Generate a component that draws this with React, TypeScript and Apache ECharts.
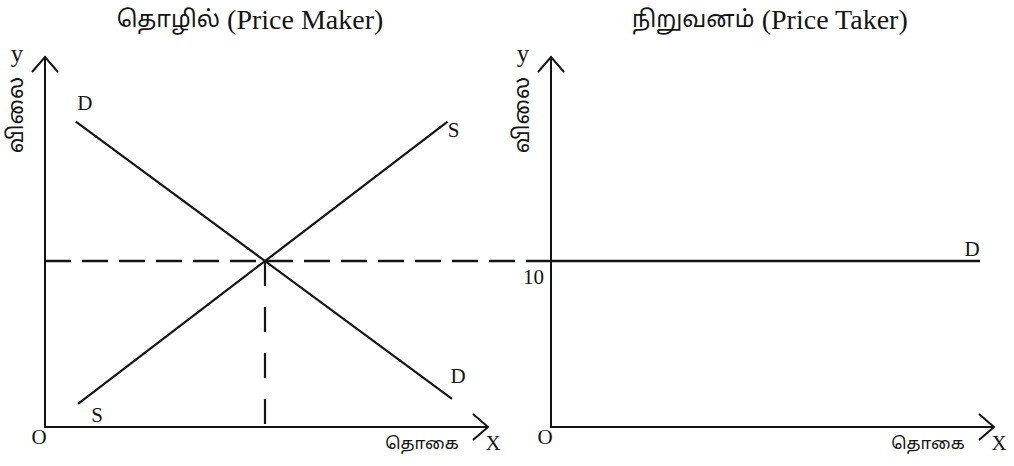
import { useEffect, useRef } from "react";
import * as echarts from "echarts";

// Industry (price maker) panel
const industryDemand = [[0.7, 18.4], [9.25, 1.7]];
const industrySupply = [[0.75, 1.4], [9.15, 18.4]];
const equilibrium = [5, 10];
// Firm (price taker) panel
const firmDemand = [[0, 10], [9.75, 10]];
const priceTicks = [10];
const xRange = [0, 10];
const yRange = [0, 22.3];

const titlesTamil = ["தொழில்", "நிறுவனம்"];
const titlesEnglish = ["(Price Maker)", "(Price Taker)"];
const priceLabel = "விலை";
const quantityLabel = "தொகை";

export default function App() {
  const ref = useRef<HTMLDivElement>(null);
  useEffect(() => {
    const chart = echarts.init(ref.current!, null, { renderer: "svg" });
    const ink = "#141414";
    const serif = '"Liberation Serif", "Times New Roman", serif';
    const tamil = '"Liberation Serif", "Noto Sans Tamil", "Lohit Tamil", serif';
    const axisLine = { show: true, lineStyle: { color: ink, width: 2 } };
    const baseAxis = (gridIndex: number, min: number, max: number, show = true) => ({
      type: "value",
      gridIndex,
      min,
      max,
      axisLine: show ? axisLine : { show: false },
      axisTick: { show: false },
      axisLabel: { show: false },
      splitLine: { show: false },
    });
    const grids = [
      { left: 45, top: 57, width: 440, height: 370 },
      { left: 551, top: 57, width: 440, height: 370 },
    ];
    // overlay grid spanning from the industry price axis to the firm price axis, same scale
    const spanWidth = grids[1].left - grids[0].left;
    const spanMax = (spanWidth / grids[0].width) * (xRange[1] - xRange[0]);
    const overlay = { left: grids[0].left, top: grids[0].top, width: spanWidth, height: grids[0].height };

    const option: any = {
      animation: false,
      backgroundColor: "#ffffff",
      grid: [...grids, overlay],
      xAxis: [
        baseAxis(0, xRange[0], xRange[1]),
        baseAxis(1, xRange[0], xRange[1]),
        baseAxis(2, xRange[0], spanMax, false),
      ],
      yAxis: [
        baseAxis(0, yRange[0], yRange[1]),
        {
          ...baseAxis(1, yRange[0], yRange[1]),
          interval: 10,
          axisLabel: {
            show: true,
            color: ink,
            fontFamily: serif,
            fontSize: 21,
            verticalAlign: "top",
            margin: 7,
            padding: [5, 0, 0, 0],
            showMaxLabel: false,
            formatter: (v: number) => (priceTicks.includes(v) ? String(v) : ""),
          },
        },
        baseAxis(2, yRange[0], yRange[1], false),
      ],
      series: [
        {
          type: "line", xAxisIndex: 0, yAxisIndex: 0, data: industryDemand,
          symbol: "none", lineStyle: { color: ink, width: 2.2 },
        },
        {
          type: "line", xAxisIndex: 0, yAxisIndex: 0, data: industrySupply,
          symbol: "none", lineStyle: { color: ink, width: 2.2 },
        },
        {
          type: "line", xAxisIndex: 2, yAxisIndex: 2,
          data: [[0, equilibrium[1]], [spanMax, equilibrium[1]]],
          symbol: "none", lineStyle: { color: ink, width: 2.5, type: [26, 11] },
        },
        {
          type: "line", xAxisIndex: 0, yAxisIndex: 0,
          data: [[equilibrium[0], equilibrium[1]], [equilibrium[0], 0]],
          symbol: "none", lineStyle: { color: ink, width: 2.2, type: [25, 21] },
        },
        {
          type: "line", xAxisIndex: 1, yAxisIndex: 1, data: firmDemand,
          symbol: "none", lineStyle: { color: ink, width: 2.5 },
        },
      ],
    };
    chart.setOption(option);

    const txt = (text: string, x: number, y: number, size: number, font = serif, extra: any = {}) => ({
      type: "text",
      x,
      y,
      ...extra,
      style: { text, fill: ink, fontSize: size, fontFamily: font, align: "center", verticalAlign: "middle" },
    });
    const title = (i: number, x: number) => ({
      type: "text",
      x,
      y: 19,
      style: {
        text: `{t|${titlesTamil[i]}}{l|${titlesEnglish[i]}}`,
        align: "center",
        verticalAlign: "middle",
        fill: ink,
        rich: {
          t: { fontFamily: tamil, fontSize: 23, fill: ink },
          l: { fontFamily: serif, fontSize: 28, fill: ink, padding: [0, 0, 0, 7] },
        },
      },
    });
    const graphic: any[] = [];
    [0, 1].forEach((g) => {
      const o = chart.convertToPixel({ gridIndex: g }, [xRange[0], yRange[0]]) as number[];
      const top = chart.convertToPixel({ gridIndex: g }, [xRange[0], yRange[1]]) as number[];
      const right = chart.convertToPixel({ gridIndex: g }, [xRange[1], yRange[0]]) as number[];
      const tipX = right[0] + 3;
      graphic.push({
        type: "polyline",
        shape: { points: [[top[0] - 13, top[1] + 15], [top[0], top[1]], [top[0] + 13, top[1] + 15]] },
        style: { stroke: ink, lineWidth: 2, fill: "none" },
      });
      graphic.push({
        type: "line",
        shape: { x1: right[0], y1: right[1], x2: tipX, y2: right[1] },
        style: { stroke: ink, lineWidth: 2 },
      });
      graphic.push({
        type: "polyline",
        shape: { points: [[tipX - 15, o[1] - 13], [tipX, o[1]], [tipX - 15, o[1] + 13]] },
        style: { stroke: ink, lineWidth: 2, fill: "none" },
      });
      graphic.push(txt("O", o[0] - 6, o[1] + 10, 21));
      graphic.push(txt("X", tipX + 5, o[1] + 16, 21));
      graphic.push(txt(quantityLabel, tipX - 66, o[1] + 16, 17, tamil));
      graphic.push(txt("y", top[0] - 28, top[1] - 4, 25));
      graphic.push(txt(priceLabel, top[0] - 30, top[1] + 58, 22, tamil, { rotation: Math.PI / 2 }));
    });
    graphic.push(title(0, 250));
    graphic.push(title(1, 770));
    // curve labels
    const lbl = (g: number, p: number[], dx: number, dy: number, t: string) => {
      const px = chart.convertToPixel({ gridIndex: g }, p) as number[];
      return txt(t, px[0] + dx, px[1] + dy, 21);
    };
    graphic.push(lbl(0, industryDemand[0], 9, -19, "D"));
    graphic.push(lbl(0, industryDemand[1], 6, -23, "D"));
    graphic.push(lbl(0, industrySupply[0], 19, 11, "S"));
    graphic.push(lbl(0, industrySupply[1], 6, 8, "S"));
    graphic.push(lbl(1, firmDemand[1], -8, -12, "D"));

    chart.setOption({ graphic });
    return () => chart.dispose();
  }, []);
  return (
    <div
      ref={ref}
      style={{ position: "fixed", left: 0, top: 0, width: 1014, height: 466, background: "#fff" }}
    />
  );
}
